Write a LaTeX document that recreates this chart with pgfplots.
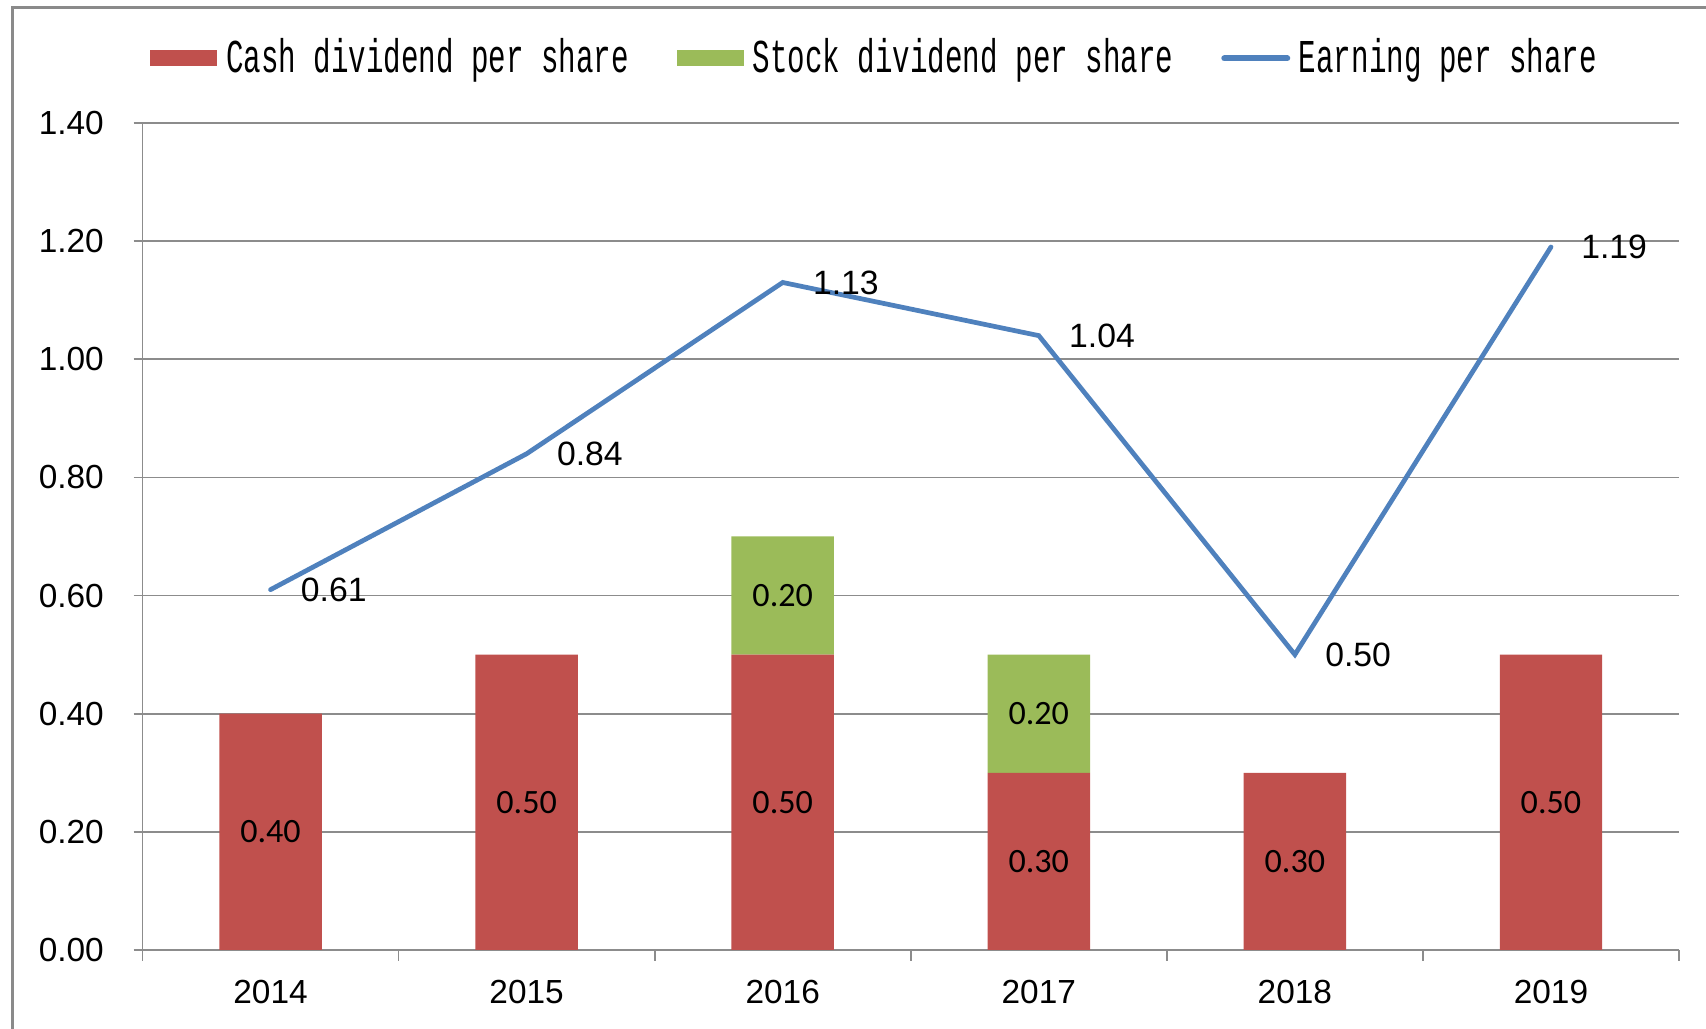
\documentclass[border=0pt]{standalone}
\usepackage{fontspec}
\setmainfont{Liberation Sans}
\newfontfamily\barfont{Carlito}
\newfontfamily\legfont{Liberation Mono}[FakeStretch=0.62]
\usepackage{pgfplots}
\pgfplotsset{compat=1.18}
\usepackage{pgfplotstable}

\definecolor{cashred}{HTML}{C0504D}
\definecolor{stockgreen}{HTML}{9BBB59}
\definecolor{epsblue}{HTML}{4F81BD}
\definecolor{gridgray}{HTML}{8C8C8C}
\definecolor{framegray}{HTML}{8A8A8A}

\pgfplotstableread{
x cash stock eps
0 0.40 0.00 0.61
1 0.50 0.00 0.84
2 0.50 0.20 1.13
3 0.30 0.20 1.04
4 0.30 0.00 0.50
5 0.50 0.00 1.19
}\datatable

\begin{document}
\begin{tikzpicture}
\path[use as bounding box] (0,0) rectangle (17.06cm,10.29cm);
\draw[framegray, line width=0.3mm] (0.125cm,0) -- (0.125cm,10.215cm) -- (17.06cm,10.215cm);

\pgfplotsset{
  common/.style={
    scale only axis,
    width=15.365cm, height=8.27cm,
    at={(1.425cm,0.79cm)}, anchor=south west,
    xmin=-0.5, xmax=5.5, ymin=0, ymax=1.4,
    /pgf/number format/assume math mode=true,
  }
}

\begin{axis}[
  common,
  ybar stacked, bar width=0.4,
  axis lines=left,
  axis line style={draw=gridgray, line width=0.5pt, -},
  ymajorgrids=true,
  grid style={draw=gridgray, line width=0.5pt},
  ytick={0,0.2,...,1.4},
  yticklabel={\pgfmathprintnumber[fixed,fixed zerofill,precision=2]{\tick}},
  xtick={0,1,2,3,4,5},
  xticklabels={2014,2015,2016,2017,2018,2019},
  minor xtick={-0.5,0.5,1.5,2.5,3.5,4.5,5.5},
  tick align=outside,
  major tick length=0.9mm,
  minor tick length=1.1mm,
  major x tick style={draw=none},
  tick style={draw=gridgray, line width=0.5pt},
  ticklabel style={font=\fontsize{9.5}{11}\selectfont, text=black, inner sep=0pt},
  yticklabel style={xshift=-2.9mm},
  xticklabel style={yshift=-2.0mm},
  legend columns=3,
  legend style={
    at={(axis description cs:0.0051,1.078)}, anchor=west,
    draw=none, fill=none, inner sep=0pt, outer sep=0pt,
    font=\legfont\fontsize{13.4}{15}\selectfont,
    nodes={inner sep=0pt},
    /tikz/every odd column/.append style={column sep=0.87mm},
    /tikz/every even column/.append style={column sep=4.8mm},
  },
  nodes near coords style={font=\barfont\fontsize{9.7}{11}\selectfont, text=black, inner sep=0pt, anchor=center},
]
\addplot[fill=cashred, draw=none,
  legend image code/.code={\fill[cashred] (0cm,-0.08cm) rectangle (0.67cm,0.08cm);},
  point meta=explicit,
  nodes near coords={\pgfmathprintnumber[fixed,fixed zerofill,precision=2]{\pgfplotspointmeta}},
] table[x=x, y=cash, meta=cash] {\datatable};
\addlegendentry{Cash dividend per share}

\addplot[fill=stockgreen, draw=none,
  legend image code/.code={\fill[stockgreen] (0cm,-0.08cm) rectangle (0.67cm,0.08cm);},
  point meta=explicit,
  nodes near coords={\pgfmathfloatifflags{\pgfplotspointmeta}{0}{}{\pgfmathprintnumber[fixed,fixed zerofill,precision=2]{\pgfplotspointmeta}}},
] table[x=x, y=stock, meta=stock] {\datatable};
\addlegendentry{Stock dividend per share}

\addlegendimage{epsblue, line width=1.5pt, line cap=round,
  legend image code/.code={\draw[epsblue, line width=1.7pt, line cap=round] (0.03cm,0cm) -- (0.66cm,0cm);}}
\addlegendentry{Earning per share}
\end{axis}

\begin{axis}[
  common,
  hide axis,
  clip=false,
]
\addplot[epsblue, line width=1.35pt, line cap=round, line join=miter, mark=none,
  point meta=explicit,
  nodes near coords={\pgfmathprintnumber[fixed,fixed zerofill,precision=2]{\pgfplotspointmeta}},
  nodes near coords style={font=\fontsize{9.6}{11}\selectfont, text=black, inner sep=0pt, anchor=west, xshift=2.8mm},
] table[x=x, y=eps, meta=eps] {\datatable};
\end{axis}
\end{tikzpicture}
\end{document}
